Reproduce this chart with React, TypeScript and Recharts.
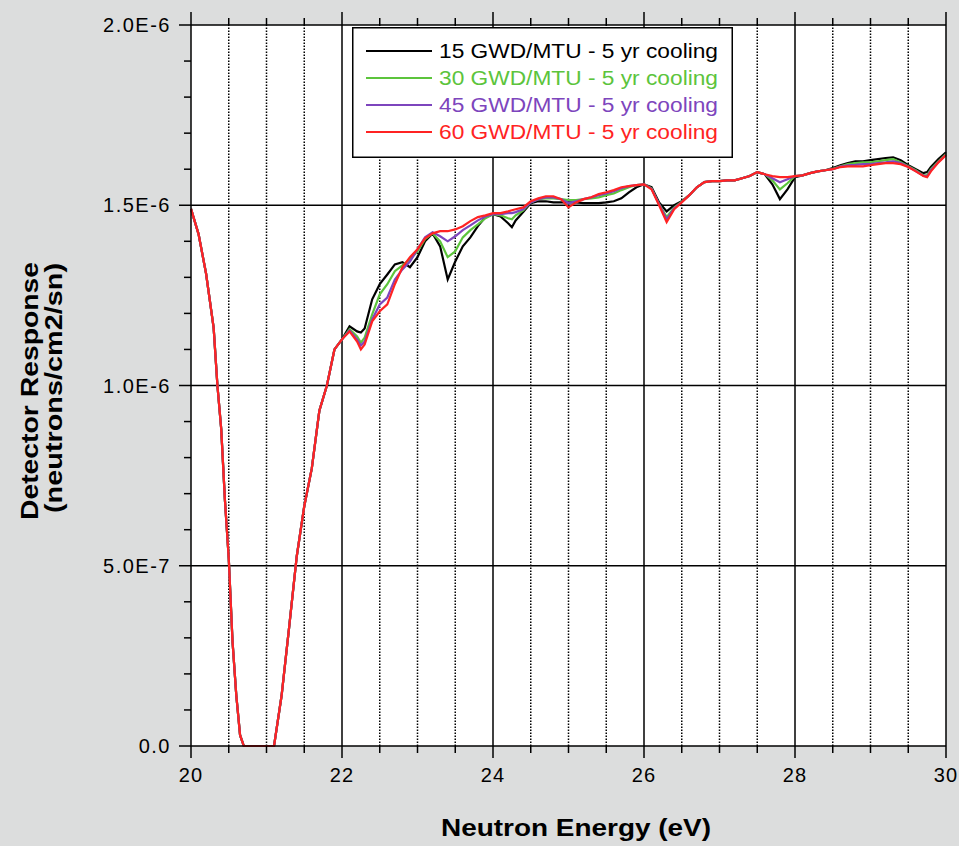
import React from 'react'
import { LineChart, Line, XAxis, YAxis, ReferenceLine, Legend, CartesianGrid } from 'recharts'

const FONT = '"Liberation Sans", Arial, sans-serif'

// neutron energy in eV
const energy = [
  20.0, 20.1, 20.2, 20.3, 20.35, 20.4, 20.45, 20.5, 20.55, 20.6, 20.65, 20.7, 20.8, 20.9, 21.0,
  21.1, 21.2, 21.3, 21.4, 21.5, 21.6, 21.7, 21.8, 21.9, 22.0,
  22.1, 22.2, 22.25, 22.3, 22.4, 22.5, 22.6, 22.7, 22.8, 22.9, 23.0,
  23.1, 23.2, 23.3, 23.4, 23.5, 23.6, 23.7, 23.8, 23.9, 24.0,
  24.1, 24.2, 24.25, 24.3, 24.4, 24.5, 24.6, 24.7, 24.8, 24.9, 25.0,
  25.1, 25.2, 25.3, 25.4, 25.5, 25.6, 25.7, 25.8, 25.9, 26.0,
  26.1, 26.2, 26.3, 26.4, 26.5, 26.6, 26.7, 26.8, 26.9, 27.0,
  27.1, 27.2, 27.3, 27.4, 27.5, 27.6, 27.7, 27.8, 27.9, 28.0,
  28.1, 28.2, 28.3, 28.4, 28.5, 28.6, 28.7, 28.8, 28.9, 29.0,
  29.1, 29.2, 29.3, 29.4, 29.5, 29.6, 29.7, 29.75, 29.8, 29.9, 30.0,
]

// detector response, units of 1E-6; the four curves coincide below 22 eV
const sharedHead = [
  1.49, 1.42, 1.31, 1.16, 1.0, 0.88, 0.68, 0.52, 0.29, 0.14, 0.03, 0, 0, 0, 0,
  0, 0.14, 0.33, 0.525, 0.665, 0.77, 0.93, 1.0, 1.10, 1.128,
]

const gwd15 = [
  ...sharedHead,
  1.164, 1.150, 1.147, 1.158, 1.239, 1.281, 1.308, 1.336, 1.342, 1.328, 1.356,
  1.400, 1.422, 1.386, 1.294, 1.344, 1.386, 1.411, 1.442, 1.467, 1.475,
  1.469, 1.450, 1.439, 1.458, 1.481, 1.506, 1.511, 1.511, 1.508, 1.508, 1.508,
  1.508, 1.506, 1.506, 1.506, 1.508, 1.511, 1.519, 1.536, 1.550, 1.558,
  1.550, 1.508, 1.483, 1.500, 1.511, 1.528, 1.550, 1.564, 1.567, 1.567,
  1.569, 1.569, 1.575, 1.581, 1.592, 1.586, 1.558, 1.517, 1.544, 1.578,
  1.583, 1.589, 1.594, 1.597, 1.603, 1.611, 1.617, 1.622, 1.622, 1.625,
  1.628, 1.631, 1.633, 1.625, 1.611, 1.600, 1.589, 1.592, 1.606, 1.628, 1.647,
]

const gwd30 = [
  ...sharedHead,
  1.156, 1.136, 1.119, 1.133, 1.197, 1.253, 1.281, 1.317, 1.333, 1.350, 1.372,
  1.406, 1.422, 1.400, 1.356, 1.372, 1.411, 1.431, 1.447, 1.464, 1.475,
  1.472, 1.464, 1.461, 1.472, 1.486, 1.508, 1.517, 1.519, 1.519, 1.517, 1.514,
  1.514, 1.517, 1.519, 1.522, 1.528, 1.533, 1.542, 1.550, 1.556, 1.558,
  1.547, 1.503, 1.467, 1.494, 1.510, 1.528, 1.550, 1.564, 1.567, 1.567,
  1.569, 1.569, 1.575, 1.581, 1.592, 1.586, 1.569, 1.544, 1.561, 1.581,
  1.583, 1.589, 1.594, 1.597, 1.601, 1.608, 1.614, 1.617, 1.619, 1.619,
  1.622, 1.625, 1.628, 1.619, 1.608, 1.597, 1.583, 1.583, 1.600, 1.622, 1.642,
]

const gwd45 = [
  ...sharedHead,
  1.153, 1.128, 1.111, 1.122, 1.183, 1.225, 1.244, 1.294, 1.322, 1.344, 1.378,
  1.411, 1.425, 1.414, 1.400, 1.414, 1.431, 1.444, 1.458, 1.469, 1.475,
  1.475, 1.478, 1.478, 1.481, 1.489, 1.508, 1.517, 1.522, 1.522, 1.517, 1.506,
  1.511, 1.517, 1.522, 1.528, 1.533, 1.539, 1.547, 1.553, 1.556, 1.558,
  1.546, 1.503, 1.461, 1.492, 1.509, 1.528, 1.550, 1.564, 1.567, 1.567,
  1.569, 1.569, 1.575, 1.581, 1.592, 1.586, 1.575, 1.564, 1.572, 1.581,
  1.583, 1.589, 1.594, 1.597, 1.600, 1.607, 1.611, 1.612, 1.614, 1.614,
  1.617, 1.619, 1.622, 1.617, 1.607, 1.595, 1.582, 1.580, 1.597, 1.620, 1.640,
]

const gwd60 = [
  ...sharedHead,
  1.150, 1.122, 1.100, 1.114, 1.178, 1.206, 1.225, 1.281, 1.328, 1.356, 1.378,
  1.408, 1.422, 1.428, 1.428, 1.433, 1.442, 1.456, 1.467, 1.472, 1.478,
  1.478, 1.483, 1.486, 1.489, 1.494, 1.511, 1.519, 1.525, 1.525, 1.517, 1.494,
  1.508, 1.517, 1.522, 1.531, 1.536, 1.542, 1.550, 1.553, 1.556, 1.558,
  1.544, 1.500, 1.453, 1.489, 1.508, 1.528, 1.550, 1.564, 1.567, 1.567,
  1.569, 1.569, 1.575, 1.581, 1.592, 1.586, 1.581, 1.578, 1.578, 1.581,
  1.583, 1.589, 1.594, 1.597, 1.600, 1.606, 1.608, 1.608, 1.608, 1.611,
  1.614, 1.617, 1.617, 1.614, 1.606, 1.594, 1.581, 1.578, 1.594, 1.619, 1.639,
]

const series = [
  { key: 'gwd15', name: '15 GWD/MTU - 5 yr cooling', color: '#000000', values: gwd15 },
  { key: 'gwd30', name: '30 GWD/MTU - 5 yr cooling', color: '#5cc43c', values: gwd30 },
  { key: 'gwd45', name: '45 GWD/MTU - 5 yr cooling', color: '#7d45bd', values: gwd45 },
  { key: 'gwd60', name: '60 GWD/MTU - 5 yr cooling', color: '#ff2323', values: gwd60 },
]

const xTicks = [20, 20.5, 21, 21.5, 22, 22.5, 23, 23.5, 24, 24.5, 25, 25.5, 26, 26.5, 27, 27.5, 28, 28.5, 29, 29.5, 30]
const xMajor = [20, 22, 24, 26, 28, 30]
const xGridSolid = [22, 24, 26, 28]
const xGridDotted = [20.5, 21, 21.5, 22.5, 23, 23.5, 24.5, 25, 25.5, 26.5, 27, 27.5, 28.5, 29, 29.5]

const yTicks = [0, 0.1, 0.2, 0.3, 0.4, 0.5, 0.6, 0.7, 0.8, 0.9, 1, 1.1, 1.2, 1.3, 1.4, 1.5, 1.6, 1.7, 1.8, 1.9, 2]
const yMajor = [0, 0.5, 1, 1.5, 2]
const yMajorLabels = ['0.0', '5.0E-7', '1.0E-6', '1.5E-6', '2.0E-6']
const yGrid = [0.5, 1, 1.5]

const rows = energy.map((e, i) => {
  const row: Record<string, number> = { e }
  series.forEach((s) => (row[s.key] = s.values[i]))
  return row
})

const isMajor = (list: number[], v: number) => list.some((m) => Math.abs(m - v) < 1e-6)

function BottomTick({ x, y, payload }: any) {
  if (!isMajor(xMajor, payload.value)) return null
  return (
    <g>
      <line x1={x} x2={x} y1={y} y2={y + 5} stroke="#000" strokeWidth={1.5} />
      <text x={x} y={y + 29} textAnchor="middle" fontSize={20} letterSpacing={1.2} fontFamily={FONT} fill="#000">
        {payload.value}
      </text>
    </g>
  )
}

function TopTick({ x, y, payload }: any) {
  if (!isMajor(xMajor, payload.value)) return null
  return <line x1={x} x2={x} y1={y - 6} y2={y} stroke="#000" strokeWidth={1.5} />
}

function LeftTick({ x, y, payload }: any) {
  const idx = yMajor.findIndex((m) => Math.abs(m - payload.value) < 1e-6)
  if (idx < 0) return null
  return (
    <g>
      <line x1={x - 5} x2={x} y1={y} y2={y} stroke="#000" strokeWidth={1.5} />
      <text x={x - 13} y={y + 7} textAnchor="end" fontSize={20} letterSpacing={1.5} fontFamily={FONT} fill="#000">
        {yMajorLabels[idx]}
      </text>
    </g>
  )
}

function RightTick({ x, y, payload }: any) {
  if (!isMajor(yMajor, payload.value)) return null
  return <line x1={x} x2={x + 5} y1={y} y2={y} stroke="#000" strokeWidth={1.5} />
}

function LegendBox() {
  return (
    <svg width={381} height={131} style={{ display: 'block' }}>
      <rect x={0.75} y={0.75} width={379.5} height={129.5} fill="#fff" stroke="#000" strokeWidth={1.5} />
      {series.map((s, i) => {
        const cy = 24 + 27 * i
        return (
          <g key={s.key}>
            <line x1={14} x2={80} y1={cy} y2={cy} stroke={s.color} strokeWidth={2} />
            <text
              x={87}
              y={cy + 7}
              fontSize={20}
              fontFamily={FONT}
              fill={s.color}
              textLength={279}
              lengthAdjust="spacingAndGlyphs"
            >
              {s.name}
            </text>
          </g>
        )
      })}
    </svg>
  )
}

const axisStroke = { stroke: '#000', strokeWidth: 1.5 }

export default function App() {
  return (
    <div style={{ position: 'absolute', left: 0, top: 0, width: 959, height: 846, background: '#dcdddd' }}>
      <LineChart width={959} height={846} data={rows} margin={{ top: 0, right: 0, bottom: 0, left: 0 }}>
        <CartesianGrid xAxisId="b" yAxisId="l" horizontal={false} vertical={false} fill="#fff" fillOpacity={1} />
        <XAxis
          xAxisId="b"
          dataKey="e"
          type="number"
          domain={[20, 30]}
          ticks={xTicks}
          interval={0}
          height={100}
          tickSize={7}
          tickMargin={0}
          axisLine={axisStroke}
          tickLine={axisStroke}
          tick={(p: any) => <BottomTick {...p} />}
        />
        <XAxis
          xAxisId="t"
          orientation="top"
          dataKey="e"
          type="number"
          domain={[20, 30]}
          ticks={xTicks}
          interval={0}
          height={25}
          tickSize={7}
          tickMargin={0}
          axisLine={axisStroke}
          tickLine={axisStroke}
          tick={(p: any) => <TopTick {...p} />}
        />
        <YAxis
          yAxisId="l"
          type="number"
          domain={[0, 2]}
          ticks={yTicks}
          interval={0}
          width={191}
          tickSize={7}
          tickMargin={0}
          axisLine={axisStroke}
          tickLine={axisStroke}
          tick={(p: any) => <LeftTick {...p} />}
        />
        <YAxis
          yAxisId="r"
          orientation="right"
          type="number"
          domain={[0, 2]}
          ticks={yTicks}
          interval={0}
          width={13}
          tickSize={7}
          tickMargin={0}
          axisLine={axisStroke}
          tickLine={axisStroke}
          tick={(p: any) => <RightTick {...p} />}
        />
        {xGridDotted.map((v) => (
          <ReferenceLine key={'d' + v} xAxisId="b" yAxisId="l" x={v} stroke="#000" strokeWidth={1.5} strokeDasharray="1.5 1.5" />
        ))}
        {xGridSolid.map((v) => (
          <ReferenceLine key={'s' + v} xAxisId="b" yAxisId="l" x={v} stroke="#000" strokeWidth={1.5} />
        ))}
        {yGrid.map((v) => (
          <ReferenceLine key={'h' + v} xAxisId="b" yAxisId="l" y={v} stroke="#000" strokeWidth={1.5} />
        ))}
        {series.map((s) => (
          <Line
            key={s.key}
            xAxisId="b"
            yAxisId="l"
            type="linear"
            dataKey={s.key}
            name={s.name}
            stroke={s.color}
            strokeWidth={2.2}
            dot={false}
            isAnimationActive={false}
          />
        ))}
        <Legend
          layout="vertical"
          align="center"
          verticalAlign="middle"
          wrapperStyle={{ left: 352, top: 27, width: 381, height: 131 }}
          content={() => <LegendBox />}
        />
      </LineChart>
      <svg
        width={959}
        height={846}
        style={{ position: 'absolute', left: 0, top: 0, pointerEvents: 'none' }}
      >
        <text
          x={576}
          y={836}
          textAnchor="middle"
          fontSize={24}
          fontWeight="bold"
          fontFamily={FONT}
          textLength={270}
          lengthAdjust="spacingAndGlyphs"
        >
          Neutron Energy (eV)
        </text>
        <text
          transform="translate(38,391) rotate(-90)"
          textAnchor="middle"
          fontSize={24}
          fontWeight="bold"
          fontFamily={FONT}
          textLength={258}
          lengthAdjust="spacingAndGlyphs"
        >
          Detector Response
        </text>
        <text
          transform="translate(62,388) rotate(-90)"
          textAnchor="middle"
          fontSize={24}
          fontWeight="bold"
          fontFamily={FONT}
          textLength={250}
          lengthAdjust="spacingAndGlyphs"
        >
          (neutrons/cm2/sn)
        </text>
      </svg>
    </div>
  )
}
